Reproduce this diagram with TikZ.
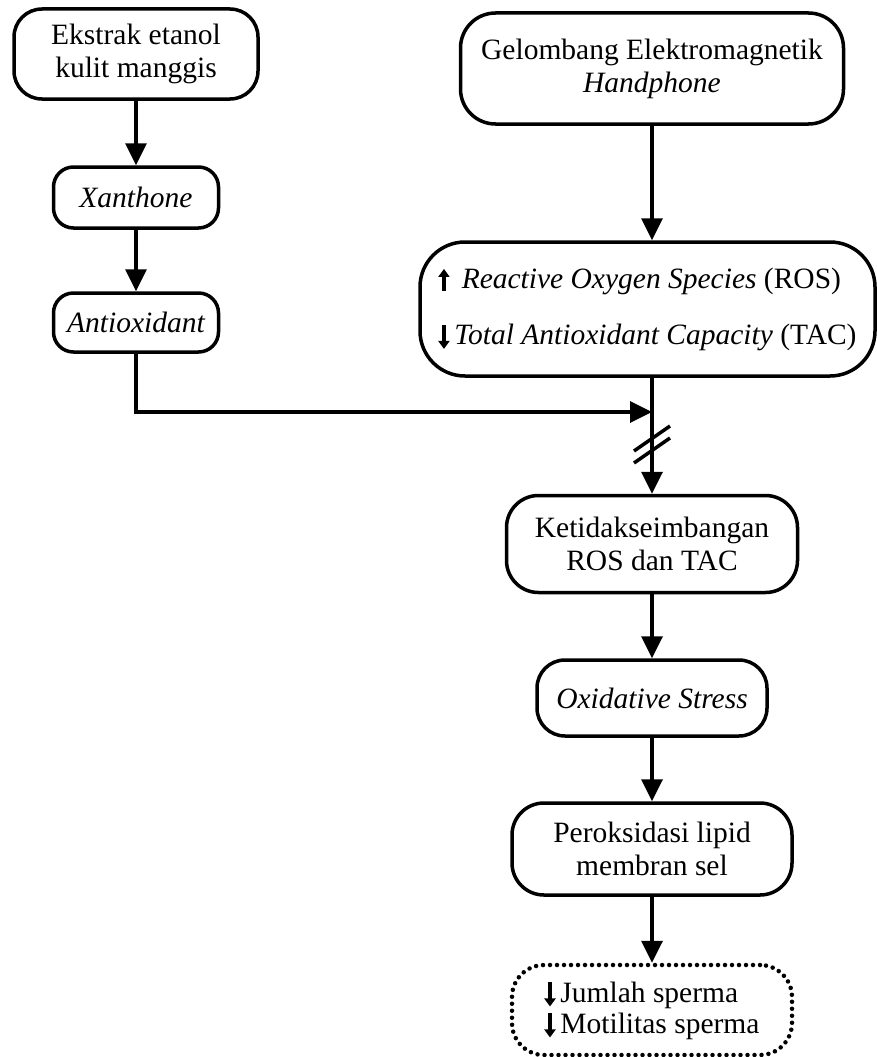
\documentclass[tikz,border=0pt]{standalone}
\usepackage{fontspec}
\setmainfont{Liberation Serif}
\usetikzlibrary{arrows.meta}
\newcommand\myup{\tikz[baseline=0pt]\draw[solid,line width=4.5pt,-{Triangle[length=8pt,width=11pt]}] (0,-2pt) -- (0,20pt);}
\newcommand\mydown{\tikz[baseline=0pt]\draw[solid,line width=4.5pt,-{Triangle[length=8pt,width=11pt]}] (0,20pt) -- (0,-4pt);}
\begin{document}
\begin{tikzpicture}[x=1pt,y=-1pt,
  box/.style={draw,line width=3.5pt,rounded corners=28pt,inner sep=0pt,align=center,font=\fontsize{29.5}{33}\selectfont},
  arr/.style={line width=3.5pt,-{Triangle[length=22pt,width=21pt]}},
  plain/.style={line width=3.5pt}]
\useasboundingbox (0,0) rectangle (876,1057);
\node[box,minimum width=244pt,minimum height=90pt] (b1) at (136,54) {Ekstrak etanol\\kulit manggis};
\node[box,rounded corners=20pt,minimum width=165pt,minimum height=61pt] (xan) at (136,197.5) {\itshape Xanthone};
\node[box,rounded corners=20pt,minimum width=165pt,minimum height=59pt] (aox) at (136,322.5) {\itshape Antioxidant};
\node[box,rounded corners=35pt,minimum width=383pt,minimum height=111pt] (gel) at (652,68.5) {Gelombang Elektromagnetik\\\itshape Handphone};
\node[box,rounded corners=45pt,minimum width=455pt,minimum height=134pt,align=left,font=\fontsize{29.5}{56}\selectfont] (ros) at (647.5,309) {\myup\ \,\textit{Reactive Oxygen Species} (ROS)\\\mydown\,\textit{Total Antioxidant Capacity} (TAC)};
\node[box,rounded corners=32pt,minimum width=291pt,minimum height=97pt] (ket) at (652,544) {Ketidakseimbangan\\ROS dan TAC};
\node[box,rounded corners=28pt,minimum width=230pt,minimum height=76pt] (ox) at (652,698) {\itshape Oxidative Stress};
\node[box,rounded corners=32pt,minimum width=280pt,minimum height=92pt] (per) at (652,849) {Peroksidasi lipid\\membran sel};
\node[box,rounded corners=32pt,dash pattern=on 0pt off 7pt,line cap=round,line width=4.5pt,minimum width=280pt,minimum height=90pt,align=left,font=\fontsize{29.5}{31}\selectfont] (res) at (652,1010) {\mydown\,Jumlah sperma\\\mydown\,Motilitas sperma};
\coordinate (join) at (652,412);
\draw[arr] (b1) -- (xan);
\draw[arr] (xan) -- (aox);
\draw[arr] (aox.south) |- (join);
\draw[arr] (gel.south) -- (gel.south |- ros.north);
\draw[arr] (ros.south -| ket.north) -- (ket.north);
\draw[arr] (ket) -- (ox);
\draw[arr] (ox) -- (per);
\draw[arr] (per) -- (res);
\draw[plain] (634,451) -- (670,426);
\draw[plain] (634,463) -- (670,438);
\end{tikzpicture}
\end{document}
